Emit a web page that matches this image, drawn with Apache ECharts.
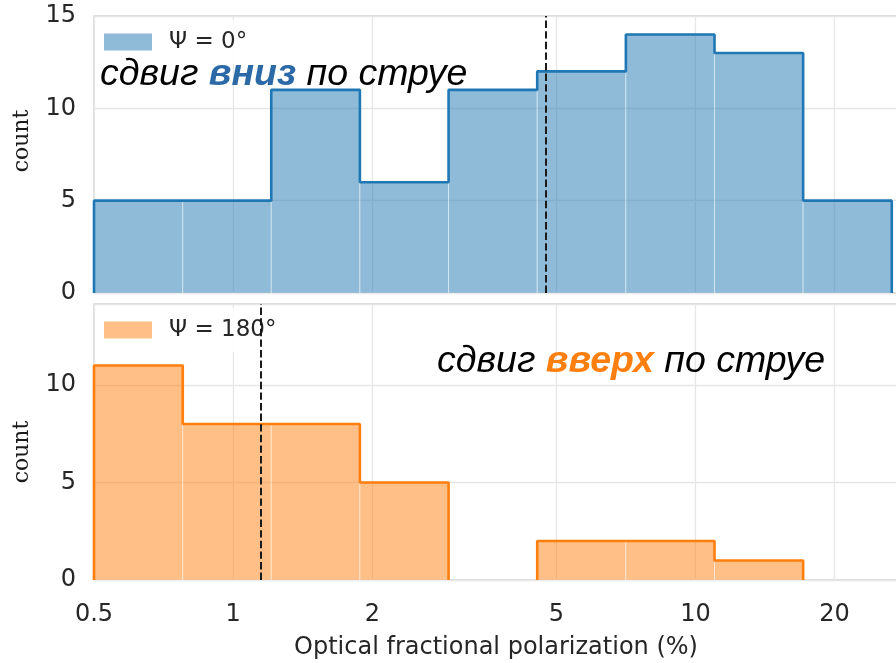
<!DOCTYPE html>
<html>
<head>
<meta charset="utf-8">
<script src="https://cdn.jsdelivr.net/npm/echarts@6/dist/echarts.min.js"></script>
<style>
  html, body { margin: 0; padding: 0; background: #ffffff; }
  #chart { width: 896px; height: 663px; }
</style>
</head>
<body>
<div id="chart"></div>
<script>
// Histogram bin edges (log-spaced), shared by both panels
const binEdges = [0.5, 0.778, 1.209, 1.88, 2.924, 4.547, 7.071, 10.996, 17.1, 26.59];
// Counts per bin
const countsDown = [5, 5, 11, 6, 11, 12, 14, 13, 5];   // Ψ = 0°
const countsUp = [11, 8, 8, 5, 0, 2, 2, 1, 0];         // Ψ = 180°
// Median markers (dashed lines)
const medianDown = 4.75;
const medianUp = 1.15;
// Axis ticks
const xTicks = [0.5, 1, 2, 5, 10, 20];
const yMaxTop = 15;
const yMaxBottom = 14.15;
const seriesNames = ['Ψ = 0°', 'Ψ = 180°'];
const xLabel = 'Optical fractional polarization (%)';
const yLabel = 'count';

const BLUE = '#1f77b4';
const ORANGE = '#ff7f0e';
const BLUE_FILL = 'rgba(31,119,180,0.5)';
const ORANGE_FILL = 'rgba(255,127,14,0.5)';
const TEXT = '#262626';

function binRows(counts) {
  return counts.map((c, i) => [binEdges[i], binEdges[i + 1], c]);
}

// Outline of the step histogram; horizontal runs at zero are left out
function outline(counts) {
  const pts = [[binEdges[0], 0]];
  counts.forEach((c, i) => {
    if (c === 0) {
      pts.push([binEdges[i], 0], null, [binEdges[i + 1], 0]);
    } else {
      pts.push([binEdges[i], c], [binEdges[i + 1], c]);
    }
  });
  pts.push([binEdges[binEdges.length - 1], 0]);
  return pts;
}

function barsRender(fill) {
  return function (params, api) {
    const h = api.value(2);
    if (!h) return null;
    const p0 = api.coord([api.value(0), h]);
    const p1 = api.coord([api.value(1), 0]);
    return {
      type: 'rect',
      shape: { x: p0[0], y: p0[1], width: p1[0] - p0[0], height: p1[1] - p0[1] },
      style: { fill: fill, stroke: 'rgba(255,255,255,0.45)', lineWidth: 1 }
    };
  };
}

const chart = echarts.init(document.getElementById('chart'), null, { renderer: 'canvas' });

// The plot area runs past the right edge of the canvas
const gridBase = {
  left: 94, width: 822, outerBoundsMode: 'none', containLabel: false,
  show: true, borderColor: '#d2d2d2', borderWidth: 1.3, backgroundColor: 'transparent'
};

function xAxisFor(gridIndex, showLabels) {
  return {
    type: 'log', logBase: 10, gridIndex: gridIndex, min: 0.5, max: 30,
    axisLine: { show: false },
    axisTick: { show: false, customValues: xTicks },
    axisLabel: {
      show: showLabels, customValues: xTicks, margin: 23,
      color: TEXT, fontFamily: 'DejaVu Sans', fontSize: 24,
      formatter: v => String(v)
    },
    splitLine: { show: true, lineStyle: { color: '#e6e6e6', width: 1.3 } }
  };
}

function yAxisFor(gridIndex, max) {
  return {
    type: 'value', gridIndex: gridIndex, min: 0, max: max, interval: 5,
    axisLine: { show: false }, axisTick: { show: false },
    axisLabel: {
      color: TEXT, fontFamily: 'DejaVu Sans', fontSize: 24, margin: 18,
      formatter: v => (v % 5 === 0 ? String(v) : '')
    },
    splitLine: { show: true, lineStyle: { color: '#e6e6e6', width: 1.3 } }
  };
}

function medianLine(x) {
  return {
    silent: true, symbol: 'none', label: { show: false },
    lineStyle: { color: '#1a1a1a', type: [7.4, 3.2], width: 2 },
    data: [{ xAxis: x }]
  };
}

const legendBase = {
  left: 98, orient: 'vertical', icon: 'rect', itemWidth: 48, itemHeight: 17,
  padding: [9, 14, 9, 6], backgroundColor: 'rgba(255,255,255,0.9)', borderWidth: 0,
  selectedMode: false,
  textStyle: { color: TEXT, fontFamily: 'DejaVu Sans', fontSize: 23, lineHeight: 26, padding: [0, 0, 0, 12] }
};

const option = {
  animation: false,
  backgroundColor: '#ffffff',
  grid: [
    Object.assign({ top: 16, height: 277 }, gridBase),
    Object.assign({ top: 304, height: 276 }, gridBase)
  ],
  xAxis: [xAxisFor(0, false), xAxisFor(1, true)],
  yAxis: [yAxisFor(0, yMaxTop), yAxisFor(1, yMaxBottom)],
  legend: [
    Object.assign({}, legendBase, { top: 20, data: [{ name: seriesNames[0], itemStyle: { color: BLUE_FILL, borderWidth: 0 } }] }),
    Object.assign({}, legendBase, { top: 308, data: [{ name: seriesNames[1], itemStyle: { color: ORANGE_FILL, borderWidth: 0 } }] })
  ],
  series: [
    {
      name: seriesNames[0], type: 'custom', xAxisIndex: 0, yAxisIndex: 0,
      renderItem: barsRender(BLUE_FILL), encode: { x: [0, 1], y: 2 },
      itemStyle: { color: BLUE_FILL }, data: binRows(countsDown), z: 2
    },
    {
      name: 'outline-0', type: 'line', xAxisIndex: 0, yAxisIndex: 0,
      data: outline(countsDown), showSymbol: false, connectNulls: false,
      lineStyle: { color: BLUE, width: 2.6 }, z: 3,
      markLine: medianLine(medianDown)
    },
    {
      name: seriesNames[1], type: 'custom', xAxisIndex: 1, yAxisIndex: 1,
      renderItem: barsRender(ORANGE_FILL), encode: { x: [0, 1], y: 2 },
      itemStyle: { color: ORANGE_FILL }, data: binRows(countsUp), z: 2
    },
    {
      name: 'outline-1', type: 'line', xAxisIndex: 1, yAxisIndex: 1,
      data: outline(countsUp), showSymbol: false, connectNulls: false,
      lineStyle: { color: ORANGE, width: 2.6 }, z: 3,
      markLine: medianLine(medianUp)
    }
  ],
  graphic: [
    {
      type: 'text', x: 496, y: 648, silent: true,
      style: { text: xLabel, fill: TEXT, font: '24px "DejaVu Sans"', textAlign: 'center', textVerticalAlign: 'middle' }
    },
    {
      type: 'text', x: 22, y: 141, rotation: Math.PI / 2,
      style: { text: yLabel, fill: '#1a1a1a', font: '22px "DejaVu Serif"', textAlign: 'center', textVerticalAlign: 'middle' }
    },
    {
      type: 'text', x: 22, y: 452, rotation: Math.PI / 2,
      style: { text: yLabel, fill: '#1a1a1a', font: '22px "DejaVu Serif"', textAlign: 'center', textVerticalAlign: 'middle' }
    },
    {
      type: 'text', x: 100, y: 75, z: 10,
      style: {
        text: '{a|сдвиг }{b|вниз}{a| по струе}',
        textVerticalAlign: 'middle',
        rich: {
          a: { font: 'italic 37.5px "Liberation Sans"', fill: '#000000' },
          b: { font: 'italic bold 37.5px "Liberation Sans"', fill: '#2b6aa6' }
        }
      }
    },
    {
      type: 'text', x: 437, y: 362, z: 10,
      style: {
        text: '{a|сдвиг }{b|вверх}{a| по струе}',
        textVerticalAlign: 'middle',
        rich: {
          a: { font: 'italic 37.5px "Liberation Sans"', fill: '#000000' },
          b: { font: 'italic bold 37.5px "Liberation Sans"', fill: ORANGE }
        }
      }
    }
  ]
};

chart.setOption(option);
</script>
</body>
</html>
